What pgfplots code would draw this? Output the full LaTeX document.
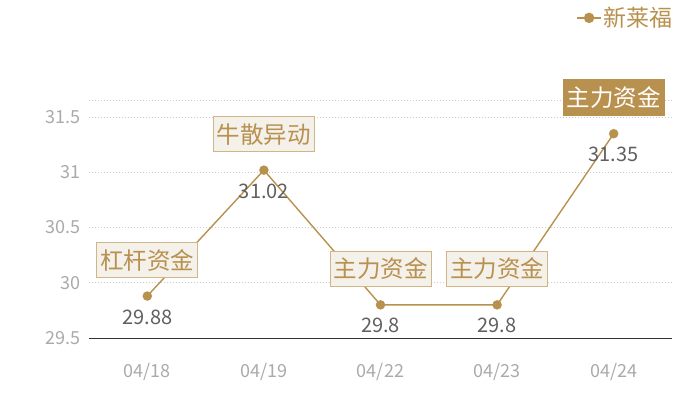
\documentclass[border=0pt]{standalone}
\usepackage{pgfplots}
\pgfplotsset{compat=1.18}
\usepackage{fontspec}
\setmainfont{Noto Sans CJK SC}

\definecolor{gold}{HTML}{B8914F}
\definecolor{boxfill}{HTML}{F4F0EA}
\definecolor{boxline}{HTML}{D2B585}
\definecolor{valtext}{HTML}{606060}
\definecolor{ticktext}{HTML}{AAAAAA}
\definecolor{gridcol}{HTML}{CCCCCC}

\pgfplotstableread{
x y v
0 29.88 29.88
1 31.02 31.02
2 29.80 29.8
3 29.80 29.8
4 31.35 31.35
}\pricedata

\pgfplotstableread{
x y t
0 29.88 杠杆资金
1 31.02 牛散异动
2 29.80 主力资金
3 29.80 主力资金
}\notes

\pgfplotstableread{
x y t
4 31.35 主力资金
}\lastnote

\begin{document}
\begin{tikzpicture}
\begin{axis}[
  at={(0,0)}, anchor=south west,
  scale only axis, width=583bp, height=238bp,
  xmin=-0.5, xmax=4.5, ymin=29.5, ymax=31.655,
  xtick={0,1,2,3,4},
  xticklabels={04/18,04/19,04/22,04/23,04/24},
  ytick={29.5,30,30.5,31,31.5},
  extra y ticks={31.655}, extra y tick labels={},
  axis lines*=left,
  x axis line style={draw=black!80, line width=0.8bp},
  y axis line style={draw=none},
  major tick length=0pt,
  ymajorgrids,
  grid style={gridcol, dash pattern=on 1.5bp off 1.5bp, line width=0.6bp},
  /pgf/number format/assume math mode=true,
  tick label style={font=\fontsize{18bp}{20bp}\selectfont, text=ticktext},
  yticklabel style={anchor=east, inner sep=0pt, xshift=-8bp},
  xticklabel style={anchor=center, inner sep=0pt, yshift=-34bp},
  clip=false,
  legend style={at={(1.005,1.345)}, anchor=east, draw=none, fill=none,
    font=\fontsize{23bp}{26bp}\selectfont, text=gold, inner sep=0pt},
  legend image code/.code={
    \draw[gold, line width=1.3bp] (-2bp,0bp) -- (22bp,0bp);
    \fill[gold] (10bp,0bp) circle (4.5bp);
  },
]
\addplot[gold, line width=1.4bp, mark=*, mark size=4bp,
  mark options={fill=gold, draw=gold},
  nodes near coords, point meta=explicit symbolic,
  every node near coord/.append style={anchor=center, yshift=-21bp,
    font=\fontsize{20bp}{22bp}\selectfont, text=valtext}]
  table[x=x, y=y, meta=v] {\pricedata};
\addlegendentry{新莱福}

\addplot[draw=none, mark=none, forget plot,
  nodes near coords, point meta=explicit symbolic,
  every node near coord/.append style={anchor=center, yshift=36bp,
    font=\fontsize{23.5bp}{26bp}\selectfont, text=gold,
    draw=boxline, line width=1bp, fill=boxfill,
    minimum width=101bp, minimum height=35bp, inner sep=1bp}]
  table[x=x, y=y, meta=t] {\notes};

\addplot[draw=none, mark=none, forget plot,
  nodes near coords, point meta=explicit symbolic,
  every node near coord/.append style={anchor=center, yshift=36bp,
    font=\fontsize{23.5bp}{26bp}\selectfont, text=white,
    draw=gold, fill=gold,
    minimum width=101bp, minimum height=36bp, inner sep=1bp}]
  table[x=x, y=y, meta=t] {\lastnote};
\end{axis}
\pgfresetboundingbox
\useasboundingbox (-89bp,-62bp) rectangle (611bp,338bp);
\end{tikzpicture}
\end{document}
